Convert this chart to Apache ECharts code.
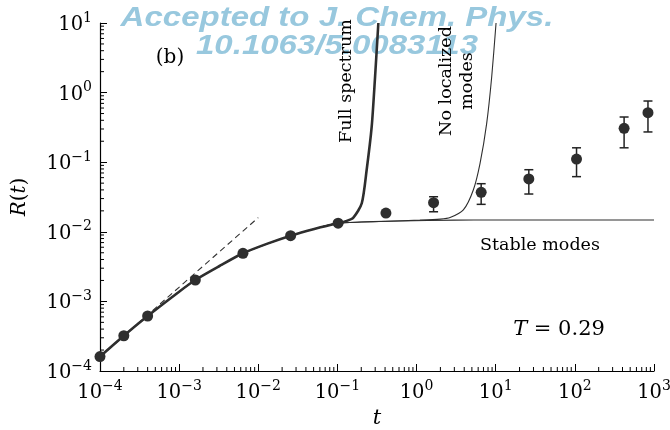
<!DOCTYPE html>
<html><head><meta charset="utf-8">
<script src="https://cdn.jsdelivr.net/npm/echarts@6/dist/echarts.min.js"></script>
<style>html,body{margin:0;padding:0;background:#fff}#c{width:670px;height:430px}</style>
</head><body><div id="c"></div>
<script>
// simulation points R(t)
const tData = [1e-4, 2e-4, 4e-4, 1.6e-3, 6.4e-3, 2.56e-2, 0.102, 0.41, 1.64, 6.55, 26.2, 105, 419, 839];
const rData = [1.61e-4, 3.21e-4, 6.17e-4, 2.03e-3, 4.91e-3, 8.79e-3, 1.33e-2, 1.86e-2, 2.62e-2, 3.69e-2, 5.74e-2, 0.111, 0.307, 0.514];
// error bars
const errT = [1.64, 6.55, 26.2, 105, 419, 839];
const errLow = [1.94e-2, 2.48e-2, 3.49e-2, 0.062, 0.161, 0.272];
const errHigh = [3.19e-2, 4.91e-2, 7.8e-2, 0.161, 0.446, 0.757];
// theory curves
const fullT = [1e-4, 2e-4, 4e-4, 1e-3, 1.6e-3, 3.2e-3, 6.4e-3, 1.28e-2, 2.56e-2, 5.1e-2, 0.098, 0.128, 0.159, 0.203, 0.234, 0.271, 0.299, 0.329];
const fullR = [1.61e-4, 3.21e-4, 6.17e-4, 1.38e-3, 2.03e-3, 3.2e-3, 4.91e-3, 6.7e-3, 8.79e-3, 1.1e-2, 1.32e-2, 1.42e-2, 1.6e-2, 2.57e-2, 7.73e-2, 0.324, 1.69, 10];
const noLocT = [1e-4, 2e-4, 4e-4, 1e-3, 1.6e-3, 3.2e-3, 6.4e-3, 1.28e-2, 2.56e-2, 5.1e-2, 0.098, 0.2, 0.4, 1.1, 2.0, 2.65, 3.9, 5.21, 6.34, 7.69, 8.9, 10.1];
const noLocR = [1.61e-4, 3.21e-4, 6.17e-4, 1.38e-3, 2.03e-3, 3.2e-3, 4.91e-3, 6.7e-3, 8.79e-3, 1.1e-2, 1.32e-2, 1.38e-2, 1.42e-2, 1.47e-2, 1.52e-2, 1.6e-2, 2.06e-2, 3.99e-2, 9.64e-2, 0.362, 1.69, 10];
const stableT = [1e-4, 2e-4, 4e-4, 1e-3, 1.6e-3, 3.2e-3, 6.4e-3, 1.28e-2, 2.56e-2, 5.1e-2, 0.098, 0.2, 0.62, 3, 9.4, 100, 1000];
const stableR = [1.61e-4, 3.21e-4, 6.17e-4, 1.38e-3, 2.03e-3, 3.2e-3, 4.91e-3, 6.7e-3, 8.79e-3, 1.1e-2, 1.32e-2, 1.38e-2, 1.43e-2, 1.47e-2, 1.48e-2, 1.48e-2, 1.48e-2];
const dashT = [1e-4, 1e-2];
const dashR = [1.6e-4, 1.6e-2];
// axes
const xMin = 1e-4, xMax = 1e3, yMin = 1e-4, yMax = 10;
const xDecades = [-4, -3, -2, -1, 0, 1, 2];
const yDecades = [-4, -3, -2, -1, 0];
const minorMult = [2, 3, 4, 5, 6, 7, 8, 9];

const SERIF = '"DejaVu Serif", serif';
const minorX = [], minorY = [];
xDecades.forEach(e => minorMult.forEach(m => minorX.push([m * Math.pow(10, e), yMin])));
yDecades.forEach(e => minorMult.forEach(m => minorY.push([xMin, m * Math.pow(10, e)])));

function pow10Label(v) {
  const e = Math.round(Math.log10(v));
  const s = e < 0 ? '\u2212' + (-e) : String(e);
  return '{b|10}{s|' + s + '}';
}
const labelRich = {
  b: {fontFamily: SERIF, fontSize: 19.5, color: '#000', lineHeight: 24, verticalAlign: 'bottom'},
  s: {fontFamily: SERIF, fontSize: 14, color: '#000', lineHeight: 14, verticalAlign: 'top'}
};
const pairs = (a, b) => a.map((v, i) => [v, b[i]]);
const INK = '#2e2e2e';

const chart = echarts.init(document.getElementById('c'), null, {renderer: 'canvas'});
chart.setOption({
  animation: false,
  backgroundColor: '#fff',
  grid: {left: 100, right: 16, top: 23, bottom: 59, containLabel: false, outerBoundsMode: 'none'},
  xAxis: {
    type: 'log', logBase: 10, min: xMin, max: xMax, interval: 1, splitNumber: 7,
    name: 't', nameLocation: 'middle', nameGap: 22,
    nameTextStyle: {fontFamily: SERIF, fontSize: 21, fontStyle: 'italic', color: '#000'},
    axisLine: {show: true, lineStyle: {color: '#000', width: 1.2}},
    axisTick: {show: true, inside: true, length: 7, lineStyle: {color: '#000', width: 1}},
    minorTick: {show: false},
    splitLine: {show: false},
    axisLabel: {margin: 8, formatter: pow10Label, rich: labelRich, showMinLabel: true, showMaxLabel: true, hideOverlap: false}
  },
  yAxis: {
    type: 'log', logBase: 10, min: yMin, max: yMax, interval: 1, splitNumber: 5,
    name: '{i|R}{n|(}{i|t}{n|)}', nameLocation: 'middle', nameRotate: 90, nameGap: 70,
    nameTextStyle: {rich: {
      i: {fontFamily: SERIF, fontSize: 20, fontStyle: 'italic', color: '#000'},
      n: {fontFamily: SERIF, fontSize: 20, color: '#000'}
    }},
    axisLine: {show: true, lineStyle: {color: '#000', width: 1.2}},
    axisTick: {show: true, inside: true, length: 7, lineStyle: {color: '#000', width: 1}},
    minorTick: {show: false},
    splitLine: {show: false},
    axisLabel: {margin: 8, formatter: pow10Label, rich: labelRich, showMinLabel: true, showMaxLabel: true, hideOverlap: false}
  },
  graphic: [
    {type: 'text', x: 337, y: 18, scaleX: 1.2, z: 0, silent: true,
      style: {text: 'Accepted to J. Chem. Phys.', x: 0, y: 0, textAlign: 'center', textVerticalAlign: 'middle',
        fontFamily: '"Liberation Sans", Arial, sans-serif', fontWeight: 'bold', fontStyle: 'italic', fontSize: 27.5, fill: '#98c8de'}},
    {type: 'text', x: 337, y: 46, scaleX: 1.2, z: 0, silent: true,
      style: {text: '10.1063/5.0083113', x: 0, y: 0, textAlign: 'center', textVerticalAlign: 'middle',
        fontFamily: '"Liberation Sans", Arial, sans-serif', fontWeight: 'bold', fontStyle: 'italic', fontSize: 27.5, fill: '#98c8de'}},
    {type: 'text', x: 170, y: 58, z: 10,
      style: {text: '(b)', x: 0, y: 0, textAlign: 'center', textVerticalAlign: 'middle', fontFamily: SERIF, fontSize: 20, fill: '#000'}},
    {type: 'text', x: 346, y: 81, rotation: Math.PI / 2, z: 10,
      style: {text: 'Full spectrum', x: 0, y: 0, textAlign: 'center', textVerticalAlign: 'middle', fontFamily: SERIF, fontSize: 17.5, fill: '#000'}},
    {type: 'text', x: 457, y: 81, rotation: Math.PI / 2, z: 10,
      style: {text: 'No localized\nmodes', x: 0, y: 0, textAlign: 'center', textVerticalAlign: 'middle', lineHeight: 21, fontFamily: SERIF, fontSize: 17.5, fill: '#000'}},
    {type: 'text', x: 540, y: 245, z: 10,
      style: {text: 'Stable modes', x: 0, y: 0, textAlign: 'center', textVerticalAlign: 'middle', fontFamily: SERIF, fontSize: 17.5, fill: '#000'}},
    {type: 'text', x: 559, y: 330, z: 10,
      style: {text: '{i|T} = 0.29', x: 0, y: 0, textAlign: 'center', textVerticalAlign: 'middle', fontFamily: SERIF, fontSize: 21, fill: '#000',
        rich: {i: {fontFamily: SERIF, fontSize: 21, fontStyle: 'italic', fill: '#000'}}}}
  ],
  series: [
    {type: 'custom', name: 'minorX', silent: true, clip: false, z: 5,
      data: minorX, encode: {x: 0, y: 1},
      renderItem: (p, api) => {
        const c = api.coord([api.value(0), api.value(1)]);
        return {type: 'line', shape: {x1: c[0], y1: c[1], x2: c[0], y2: c[1] - 4}, style: {stroke: '#000', lineWidth: 1}};
      }},
    {type: 'custom', name: 'minorY', silent: true, clip: false, z: 5,
      data: minorY, encode: {x: 0, y: 1},
      renderItem: (p, api) => {
        const c = api.coord([api.value(0), api.value(1)]);
        return {type: 'line', shape: {x1: c[0], y1: c[1], x2: c[0] + 4, y2: c[1]}, style: {stroke: '#000', lineWidth: 1}};
      }},
    {type: 'line', name: 'slope', data: pairs(dashT, dashR), showSymbol: false, z: 2,
      lineStyle: {color: '#333', width: 1.1, type: [6, 4]}},
    {type: 'line', name: 'Stable modes', data: pairs(stableT, stableR), showSymbol: false, smooth: 0.25, z: 3,
      lineStyle: {color: INK, width: 1.1}},
    {type: 'line', name: 'No localized modes', data: pairs(noLocT, noLocR), showSymbol: false, smooth: 0.25, z: 3,
      lineStyle: {color: INK, width: 1.1}},
    {type: 'line', name: 'Full spectrum', data: pairs(fullT, fullR), showSymbol: false, smooth: 0.25, z: 4,
      lineStyle: {color: INK, width: 2.6}},
    {type: 'custom', name: 'err', z: 6,
      data: errT.map((t, i) => [t, errLow[i], errHigh[i]]), encode: {x: 0, y: [1, 2]},
      renderItem: (p, api) => {
        const lo = api.coord([api.value(0), api.value(1)]);
        const hi = api.coord([api.value(0), api.value(2)]);
        const w = 4.5, st = {stroke: '#222', lineWidth: 1.5};
        return {type: 'group', children: [
          {type: 'line', shape: {x1: lo[0], y1: lo[1], x2: hi[0], y2: hi[1]}, style: st},
          {type: 'line', shape: {x1: lo[0] - w, y1: lo[1], x2: lo[0] + w, y2: lo[1]}, style: st},
          {type: 'line', shape: {x1: hi[0] - w, y1: hi[1], x2: hi[0] + w, y2: hi[1]}, style: st}
        ]};
      }},
    {type: 'scatter', name: 'R(t)', data: pairs(tData, rData), symbol: 'circle', symbolSize: 11, z: 7,
      itemStyle: {color: INK, opacity: 1}}
  ]
});
</script>
</body></html>
